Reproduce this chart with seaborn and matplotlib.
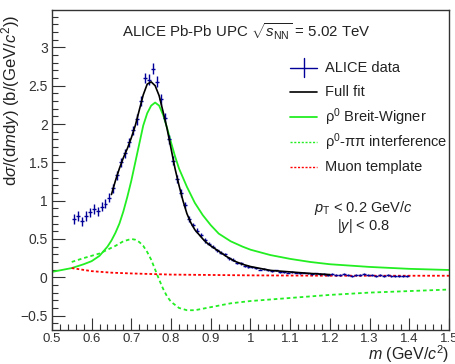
import numpy as np
import pandas as pd
import matplotlib
matplotlib.use("Agg")
import matplotlib.pyplot as plt
from matplotlib.ticker import MultipleLocator
import seaborn as sns

# ALICE data points (bin centres, values, errors)
data_m = [0.555, 0.565, 0.575, 0.585, 0.595, 0.605, 0.615, 0.625, 0.635, 0.645,
          0.655, 0.665, 0.675, 0.685, 0.695, 0.705, 0.715, 0.725, 0.735, 0.745,
          0.755, 0.765, 0.775, 0.785, 0.795, 0.805, 0.815, 0.825, 0.835, 0.845,
          0.855, 0.865, 0.875, 0.885, 0.895, 0.905, 0.915, 0.925, 0.935, 0.945,
          0.955, 0.965, 0.975, 0.985, 0.995, 1.005, 1.015, 1.025, 1.035, 1.045,
          1.055, 1.065, 1.075, 1.085, 1.095, 1.105, 1.115, 1.125, 1.135, 1.145,
          1.155, 1.165, 1.175, 1.185, 1.195, 1.205, 1.215, 1.225, 1.235, 1.245,
          1.255, 1.265, 1.275, 1.285, 1.295, 1.305, 1.315, 1.325, 1.335, 1.345,
          1.355, 1.365, 1.375, 1.385, 1.395]
data_v = [0.76, 0.80, 0.73, 0.80, 0.85, 0.89, 0.86, 0.92, 0.96, 1.04,
          1.16, 1.33, 1.50, 1.62, 1.76, 1.92, 2.06, 2.30, 2.60, 2.58,
          2.72, 2.55, 2.32, 2.08, 1.80, 1.52, 1.28, 1.10, 0.94, 0.76,
          0.68, 0.61, 0.55, 0.48, 0.44, 0.40, 0.35, 0.32, 0.30, 0.25,
          0.23, 0.19, 0.18, 0.15, 0.14, 0.13, 0.12, 0.10, 0.11, 0.09,
          0.08, 0.09, 0.07, 0.07, 0.06, 0.07, 0.06, 0.05, 0.06, 0.05,
          0.04, 0.05, 0.04, 0.04, 0.03, 0.04, 0.03, 0.03, 0.04, 0.03,
          0.02, 0.03, 0.03, 0.04, 0.03, 0.03, 0.02, 0.03, 0.02, 0.03,
          0.02, 0.02, 0.02, 0.02, 0.02]
data_err = [0.06, 0.06, 0.06, 0.06, 0.06, 0.06, 0.06, 0.06, 0.06, 0.06,
            0.06, 0.06, 0.06, 0.06, 0.06, 0.06, 0.07, 0.07, 0.07, 0.07,
            0.07, 0.07, 0.07, 0.06, 0.06, 0.06, 0.05, 0.05, 0.04, 0.04,
            0.03, 0.03, 0.03, 0.03, 0.02, 0.02, 0.02, 0.02, 0.02, 0.02,
            0.015, 0.015, 0.015, 0.015, 0.015, 0.01, 0.01, 0.01, 0.01, 0.01,
            0.01, 0.01, 0.01, 0.01, 0.01, 0.01, 0.01, 0.01, 0.01, 0.01,
            0.01, 0.01, 0.01, 0.01, 0.01, 0.01, 0.01, 0.01, 0.01, 0.01,
            0.01, 0.01, 0.01, 0.01, 0.01, 0.01, 0.01, 0.01, 0.01, 0.01,
            0.01, 0.01, 0.01, 0.01, 0.01]
bin_half = 0.005

# full fit
fit_m = [0.65, 0.66, 0.67, 0.68, 0.69, 0.70, 0.71, 0.72, 0.73, 0.74, 0.75, 0.76,
         0.77, 0.78, 0.79, 0.80, 0.81, 0.82, 0.83, 0.84, 0.85, 0.86, 0.87, 0.88,
         0.89, 0.90, 0.92, 0.94, 0.96, 0.98, 1.00, 1.02, 1.05, 1.10, 1.15, 1.20]
fit_v = [1.08, 1.26, 1.42, 1.56, 1.68, 1.82, 1.98, 2.18, 2.38, 2.52, 2.55, 2.50,
         2.37, 2.16, 1.94, 1.68, 1.42, 1.20, 1.00, 0.83, 0.71, 0.62, 0.56, 0.50,
         0.45, 0.41, 0.34, 0.27, 0.21, 0.17, 0.14, 0.12, 0.09, 0.07, 0.05, 0.035]

# rho0 Breit-Wigner
bw_m = [0.50, 0.52, 0.55, 0.58, 0.60, 0.62, 0.64, 0.65, 0.66, 0.67, 0.68, 0.69,
        0.70, 0.71, 0.72, 0.73, 0.74, 0.75, 0.76, 0.77, 0.78, 0.79, 0.80, 0.81,
        0.82, 0.83, 0.84, 0.86, 0.88, 0.90, 0.92, 0.95, 0.98, 1.00, 1.05, 1.10,
        1.15, 1.20, 1.30, 1.40, 1.50]
bw_v = [0.07, 0.09, 0.12, 0.17, 0.21, 0.28, 0.40, 0.48, 0.58, 0.70, 0.86, 1.05,
        1.26, 1.50, 1.74, 1.98, 2.14, 2.24, 2.28, 2.24, 2.12, 1.95, 1.76, 1.58,
        1.42, 1.30, 1.18, 0.97, 0.81, 0.68, 0.57, 0.47, 0.40, 0.36, 0.29, 0.24,
        0.20, 0.17, 0.135, 0.11, 0.095]

# rho0 - pi pi interference
int_m = [0.55, 0.58, 0.60, 0.62, 0.64, 0.66, 0.68, 0.70, 0.71, 0.72, 0.73, 0.74,
         0.75, 0.76, 0.77, 0.78, 0.79, 0.80, 0.82, 0.84, 0.86, 0.88, 0.90, 0.95,
         1.00, 1.10, 1.20, 1.30, 1.40, 1.50]
int_v = [0.20, 0.25, 0.28, 0.31, 0.36, 0.41, 0.47, 0.50, 0.49, 0.46, 0.41, 0.33,
         0.23, 0.10, -0.03, -0.15, -0.25, -0.32, -0.40, -0.43, -0.43, -0.41, -0.39, -0.34,
         -0.31, -0.27, -0.23, -0.20, -0.18, -0.16]

# muon template
mu_m = [0.55, 0.60, 0.65, 0.70, 0.80, 0.90, 1.00, 1.20, 1.50]
mu_v = [0.12, 0.08, 0.06, 0.05, 0.035, 0.03, 0.025, 0.02, 0.02]

legend_labels = ["ALICE data", "Full fit", "ρ$^{0}$ Breit-Wigner",
                 "ρ$^{0}$-ππ interference", "Muon template"]

sns.set_style("ticks")
plt.rcParams['font.family'] = ['Liberation Sans', 'DejaVu Sans']
plt.rcParams['mathtext.fontset'] = 'custom'
plt.rcParams['mathtext.rm'] = 'Liberation Sans'
plt.rcParams['mathtext.it'] = 'Liberation Sans:italic'
plt.rcParams['mathtext.sf'] = 'Liberation Sans'

fig = plt.figure(figsize=(4.55, 3.64), dpi=100)
ax = fig.add_axes([0.114, 0.093, 0.873, 0.880])

blue = "#000099"
green = "#22ee22"
red = "#ff0000"
dash_g = (0, (2, 1.6))
dash_r = (0, (1.5, 1.2))

sns.lineplot(x=bw_m, y=bw_v, ax=ax, color=green, lw=1.3, sort=False)
sns.lineplot(x=int_m, y=int_v, ax=ax, color=green, lw=1.3, sort=False, linestyle=dash_g)
sns.lineplot(x=mu_m, y=mu_v, ax=ax, color=red, lw=1.3, sort=False, linestyle=dash_r)
ax.errorbar(data_m, data_v, xerr=bin_half, yerr=data_err, fmt="none",
            ecolor=blue, elinewidth=1.0, capsize=0)
sns.lineplot(x=fit_m, y=fit_v, ax=ax, color="black", lw=1.2, sort=False)

ax.set_xlim(0.5, 1.5)
ax.set_ylim(-0.69, 3.49)
ax.xaxis.set_major_locator(MultipleLocator(0.1))
ax.xaxis.set_minor_locator(MultipleLocator(0.02))
ax.yaxis.set_major_locator(MultipleLocator(0.5))
ax.yaxis.set_minor_locator(MultipleLocator(0.1))
ax.xaxis.set_major_formatter(plt.FuncFormatter(lambda v, p: f"{v:g}"))
ax.yaxis.set_major_formatter(plt.FuncFormatter(lambda v, p: f"{v:g}".replace("-", "\u2212")))
ax.tick_params(which="both", direction="in", top=False, right=False,
               colors="#333333", labelcolor="#333333")
ax.tick_params(axis="x", labelsize=9.5, pad=2)
ax.tick_params(axis="y", labelsize=10, pad=3)
ax.tick_params(which="major", length=9, width=0.8)
ax.tick_params(which="minor", length=4.5, width=0.8)
for s in ax.spines.values():
    s.set_linewidth(1.0)
    s.set_color("#333333")

ax.set_xlabel(r"$m$ (GeV/$c^2$)", fontsize=11.5, loc="right", color="#222222")
ax.xaxis.set_label_coords(1.0, -0.042)
ax.set_ylabel(r"d$\sigma$/(d$m$d$y$) (b/(GeV/$c^2$))", fontsize=12, loc="top", color="#222222")
ax.yaxis.set_label_coords(-0.076, 0.985)

ax.text(0.49, 0.965, r"ALICE Pb-Pb UPC $\sqrt{s_{\rm NN}}$ = 5.02 TeV", transform=ax.transAxes,
        ha="center", va="top", fontsize=10.8, color="#222222")
ax.text(0.785, 0.38, r"$p_{\rm T}$ < 0.2 GeV/$c$", transform=ax.transAxes,
        ha="center", va="center", fontsize=10.5, color="#222222")
ax.text(0.785, 0.325, r"|$y$| < 0.8", transform=ax.transAxes,
        ha="center", va="center", fontsize=10.5, color="#222222")

# legend drawn by hand, ROOT TLegend style
leg_y = [0.819, 0.744, 0.666, 0.588, 0.509]
hx0, hx1, tx = 0.600, 0.668, 0.688
styles = [dict(color=blue, lw=1.0), dict(color="black", lw=1.2),
          dict(color=green, lw=1.3), dict(color=green, lw=1.0, linestyle=dash_r),
          dict(color=red, lw=1.0, linestyle=dash_r)]
for yy, lab, st in zip(leg_y, legend_labels, styles):
    ax.plot([hx0, hx1], [yy, yy], transform=ax.transAxes, **st)
    ax.text(tx, yy, lab, transform=ax.transAxes, ha="left", va="center",
            fontsize=10.5, color="#222222")
ax.plot([(hx0 + hx1) / 2] * 2, [leg_y[0] - 0.03, leg_y[0] + 0.03],
        transform=ax.transAxes, color=blue, lw=1.0)

fig.savefig("out.png", dpi=100)
